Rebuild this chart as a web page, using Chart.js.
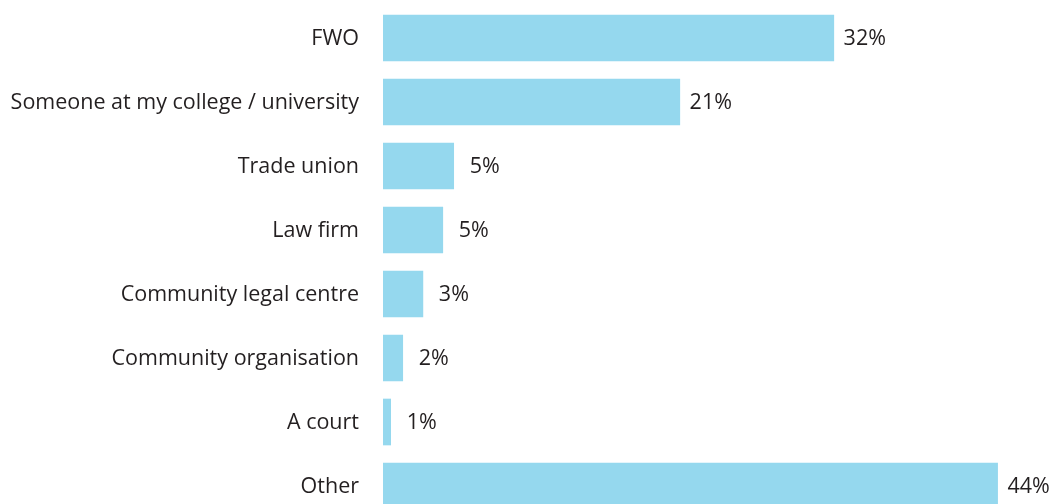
<!DOCTYPE html>
<html>
<head>
<meta charset="utf-8">
<script src="https://cdn.jsdelivr.net/npm/chart.js@4"></script>
<style>
  html, body { margin: 0; padding: 0; background: #ffffff; overflow: hidden; width: 1052px; height: 504px; }
  #wrap { position: absolute; left: 0; top: 0; width: 1052px; height: 520px; }
</style>
</head>
<body>
<div id="wrap"><canvas id="c"></canvas></div>
<script>
const categories = ["FWO", "Someone at my college / university", "Trade union", "Law firm", "Community legal centre", "Community organisation", "A court", "Other"];
const values = [32.2, 21.2, 5.05, 4.27, 2.85, 1.41, 0.55, 43.9];
const valueLabels = ["32%", "21%", "5%", "5%", "3%", "2%", "1%", "44%"];

const FONT = "'Open Sans', sans-serif";
const TEXT = "#231F20";
const BAR = "#95D8EE";
const FS = 21.5;

const labelPlugin = {
  id: 'valueLabels',
  afterDatasetsDraw(chart) {
    const ctx = chart.ctx;
    const meta = chart.getDatasetMeta(0);
    const yScale = chart.scales.y;
    ctx.save();
    ctx.font = FS + "px " + FONT;
    ctx.fillStyle = TEXT;
    ctx.textBaseline = "middle";
    meta.data.forEach((bar, i) => {
      ctx.textAlign = "center";
      ctx.fillText(valueLabels[i], bar.x + 31, bar.y + 1);
      ctx.textAlign = "right";
      ctx.fillText(categories[i], chart.chartArea.left - 24, yScale.getPixelForValue(i) + 1);
    });
    ctx.restore();
  }
};

new Chart(document.getElementById('c'), {
  type: 'bar',
  data: {
    labels: categories,
    datasets: [{
      data: values,
      backgroundColor: BAR,
      borderWidth: 0,
      barThickness: 46
    }]
  },
  options: {
    indexAxis: 'y',
    responsive: true,
    maintainAspectRatio: false,
    animation: false,
    layout: { padding: { top: 6, bottom: 2, left: 383, right: 0 } },
    plugins: { legend: { display: false }, tooltip: { enabled: false } },
    scales: {
      x: { min: 0, max: 669 / 14, display: false, grid: { display: false } },
      y: { display: false, grid: { display: false } }
    }
  },
  plugins: [labelPlugin]
});
</script>
</body>
</html>
